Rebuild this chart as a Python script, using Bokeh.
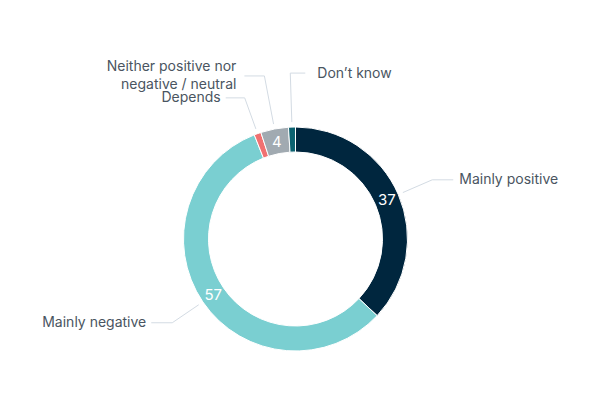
import numpy as np
from bokeh.plotting import figure
from bokeh.models import Range1d, ColumnDataSource
from bokeh.embed import file_html
from bokeh.resources import INLINE
from bokeh.core.properties import value

# ---- data ----
categories = ["Mainly positive", "Mainly negative", "Depends",
              "Neither positive nor negative / neutral", "Don’t know"]
label_lines = [["Mainly positive"], ["Mainly negative"], ["Depends"],
               ["Neither positive nor", "negative / neutral"], ["Don’t know"]]
values = [37, 57, 1, 4, 1]
show_value = [True, True, False, True, False]
colors = ["#00263e", "#7acfd1", "#f07171", "#a1aab1", "#0b6270"]

# ---- layout / style ----
CX, CY = 295.0, 161.5
R_OUT, R_IN = 112.0, 87.0
R_CONN = 117.0
elbow_r = [149, 149, 150, 166, 166]
sides = [1, -1, -1, -1, 1]
horiz_len = [21, 21, 19, 20, 15]
text_gap = [6, 5, 5, 8, 12]
LABEL_COLOR = "#4a5561"
CONN_COLOR = "#d3dbe3"
FONT = "Inter"

p = figure(width=584, height=384, output_backend="svg", toolbar_location=None,
           x_range=Range1d(0, 584), y_range=Range1d(16, 400), min_border=0)
p.axis.visible = False
p.grid.visible = False
p.outline_line_color = None
p.background_fill_color = "white"
p.border_fill_color = "white"

vals = np.array(values, dtype=float)
frac = vals / vals.sum()
c1 = np.cumsum(frac)
c0 = c1 - frac
start = np.pi / 2 - 2 * np.pi * c1
end = np.pi / 2 - 2 * np.pi * c0
theta = np.pi * (c0 + c1)  # clockwise from top

src = ColumnDataSource(dict(start=start, end=end, color=colors, cat=categories))
p.annular_wedge(x=CX, y=CY, inner_radius=R_IN, outer_radius=R_OUT,
                start_angle="start", end_angle="end", direction="anticlock",
                fill_color="color", line_color="white", line_width=1, source=src)

# value labels
r_mid = (R_IN + R_OUT) / 2
vx, vy, vt = [], [], []
for i, v in enumerate(values):
    if show_value[i]:
        vx.append(CX + r_mid * np.sin(theta[i]))
        vy.append(CY + r_mid * np.cos(theta[i]))
        vt.append(str(v))
p.text(x=vx, y=vy, text=vt, text_color="white", text_font=value(FONT),
       text_font_size="15px", text_align="center", text_baseline="middle")

# connectors and category labels
xs, ys = [], []
tx, ty, tt, ta = [], [], [], []
for i in range(len(values)):
    sx = CX + R_CONN * np.sin(theta[i]); sy = CY + R_CONN * np.cos(theta[i])
    ex = CX + elbow_r[i] * np.sin(theta[i]); ey = CY + elbow_r[i] * np.cos(theta[i])
    hx = ex + sides[i] * horiz_len[i]
    xs.append([sx, ex, hx]); ys.append([sy, ey, ey])
    lines = label_lines[i]
    n = len(lines)
    for k, ln in enumerate(lines):
        tx.append(hx + sides[i] * text_gap[i])
        ty.append(ey + 1 + (n - 1) * 9 - k * 18)
        tt.append(ln)
        ta.append("left" if sides[i] > 0 else "right")

p.multi_line(xs=xs, ys=ys, line_color=CONN_COLOR, line_width=1)
p.text(x=tx, y=ty, text=tt, text_align=ta, text_baseline="middle",
       text_color=LABEL_COLOR, text_font=value(FONT), text_font_size="14px")

open("out.html", "w").write(file_html(p, INLINE))
